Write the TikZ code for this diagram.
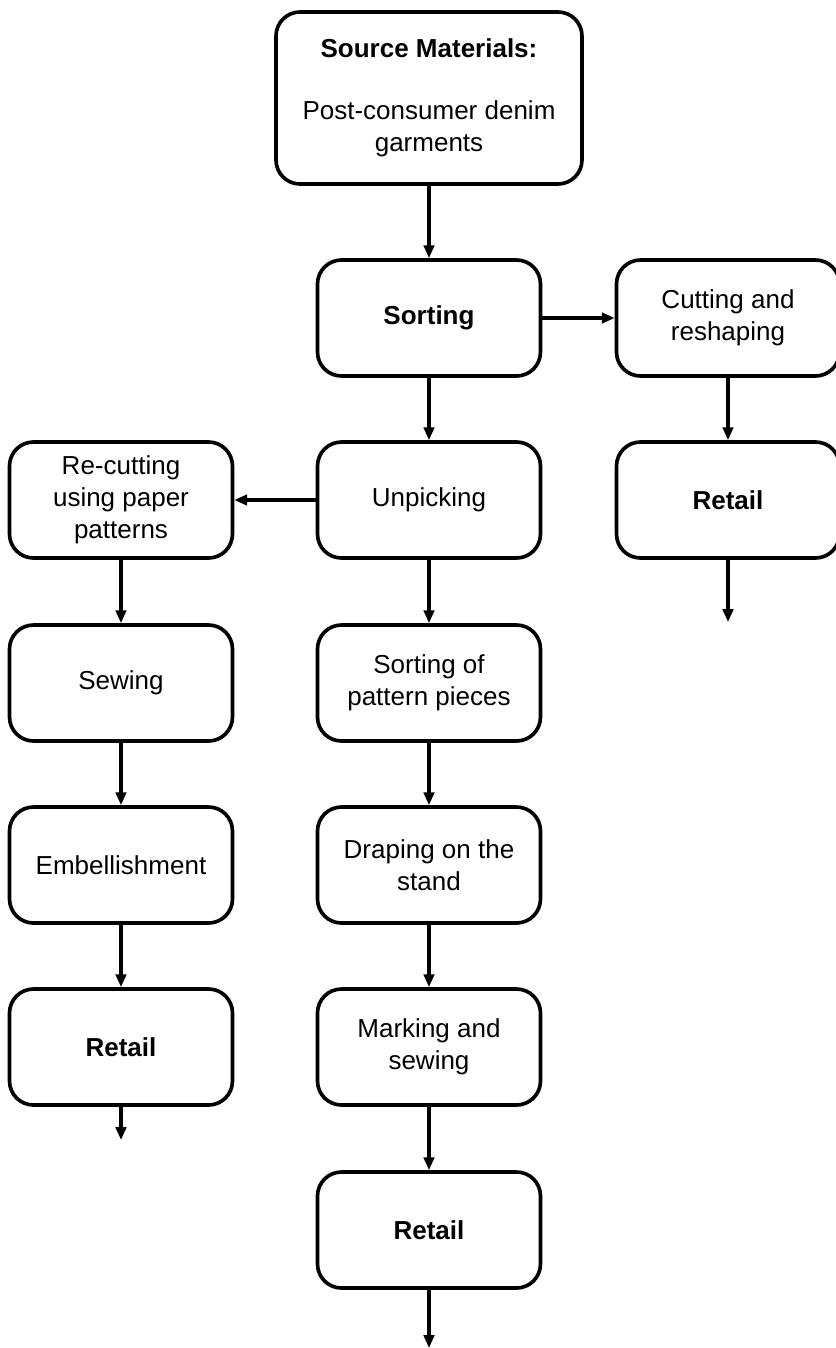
\documentclass[tikz,border=0pt]{standalone}
\usepackage{fontspec}
\setmainfont{Liberation Sans}
\usetikzlibrary{arrows.meta}

\begin{document}
\begin{tikzpicture}
		[line cap=round,
		%Styles
		stage/.style={draw, line width=2.6pt, rounded corners=0.6cm, minimum width=5.575cm, minimum height=2.9cm, align=center, font=\fontsize{18.5}{22.7}\selectfont, inner sep=2pt},
		source box/.style={stage, minimum width=7.65cm, minimum height=4.3cm},
		flow/.style={line width=2.2pt, -{Triangle[length=0.32cm, width=0.26cm]}}
		]
		
		\useasboundingbox (0, 0) rectangle (20.9, -33.7);
		
		%The graphic
		
		\node[source box] (source) at (10.725, -2.45) {\textbf{Source Materials:}\\[0.75cm]Post-consumer denim\\garments};
		\node[stage] (sorting) at (10.725, -7.95) {\textbf{Sorting}};
		\node[stage] (cutting) at (18.2, -7.95) {Cutting and\\reshaping};
		\node[stage] (unpicking) at (10.725, -12.5) {Unpicking};
		\node[stage] (recutting) at (3.025, -12.5) {Re-cutting\\using paper\\patterns};
		\node[stage] (retailR) at (18.2, -12.5) {\textbf{Retail}};
		\node[stage] (sewing) at (3.025, -17.075) {Sewing};
		\node[stage] (pieces) at (10.725, -17.075) {Sorting of\\pattern pieces};
		\node[stage] (embellish) at (3.025, -21.625) {Embellishment};
		\node[stage] (draping) at (10.725, -21.625) {Draping on the\\stand};
		\node[stage] (retailL) at (3.025, -26.175) {\textbf{Retail}};
		\node[stage] (marking) at (10.725, -26.175) {Marking and\\sewing};
		\node[stage] (retailC) at (10.725, -30.75) {\textbf{Retail}};
		
		\coordinate (endR) at (18.2, -15.55);
		\coordinate (endL) at (3.025, -28.5);
		\coordinate (endC) at (10.725, -33.7);
		
		\draw[flow] (source) -- (sorting);
		\draw[flow] (sorting) -- (cutting);
		\draw[flow] (sorting) -- (unpicking);
		\draw[flow] (cutting) -- (retailR);
		\draw[flow] (retailR.south) -- (endR);
		\draw[flow] (unpicking) -- (recutting);
		\draw[flow] (recutting) -- (sewing);
		\draw[flow] (sewing) -- (embellish);
		\draw[flow] (embellish) -- (retailL);
		\draw[flow] (retailL.south) -- (endL);
		\draw[flow] (unpicking) -- (pieces);
		\draw[flow] (pieces) -- (draping);
		\draw[flow] (draping) -- (marking);
		\draw[flow] (marking) -- (retailC);
		\draw[flow] (retailC.south) -- (endC);
		
	\end{tikzpicture}
\end{document}
